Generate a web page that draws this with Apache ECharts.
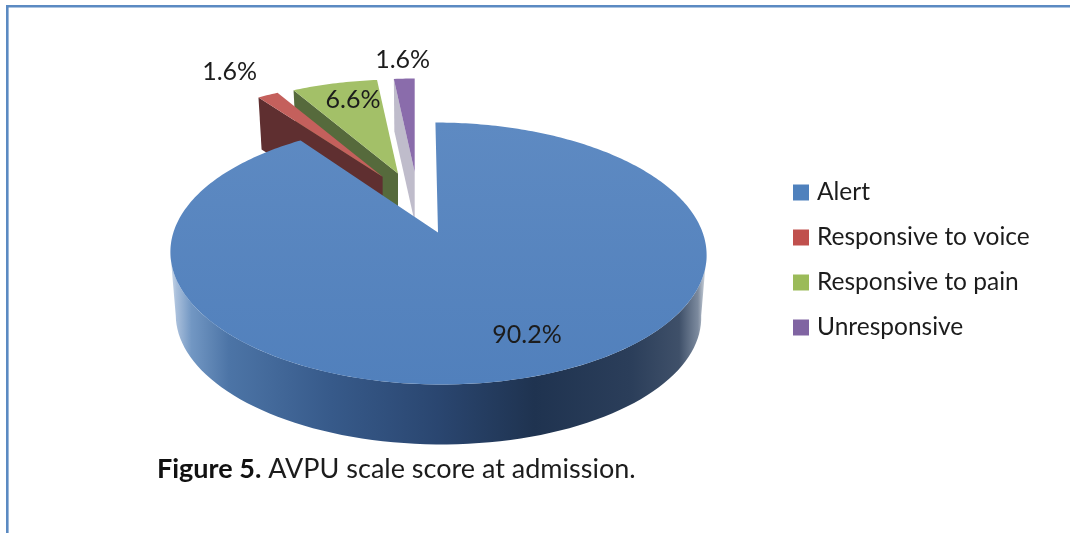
<!DOCTYPE html>
<html>
<head>
<meta charset="utf-8">
<style>html,body{margin:0;padding:0;background:#fff}#c{width:1070px;height:533px}</style>
<script src="https://cdn.jsdelivr.net/npm/echarts@6/dist/echarts.min.js"></script>
</head>
<body>
<div id="c"></div>
<script>
const categories = ['Alert', 'Responsive to voice', 'Responsive to pain', 'Unresponsive'];
const values = [90.2, 1.6, 6.6, 1.6];
const labels = ['90.2%', '1.6%', '6.6%', '1.6%'];

const topColors = ['#5a87c0', '#c4605c', '#a3c068', '#8a6cab'];
const legendColors = ['#4f81bd', '#c0504d', '#9bbb59', '#8064a2'];
const wallColors = ['#2e4f7c', '#5f2f30', '#566a3c', '#bfbccb'];

// Pie projection (perspective ellipse), explosion and label layout
const geo = {
  pivotX: 418, pivotY: 203, explodeX: 66, explodeY: 31,
  a: 264.6, b: 127.6, k: 0.16, shear: -3,
  mainDrop: 63, mainShrink: 0.98, sliceDrop: 50, sliceShrink: 0.975,
  farX: 0.91, farY: 0.85
};
const labelOffsets = [[89, 102], [-153, -105], [-45, -74], [-12, -112]];
const drawOrder = [3, 2, 1, 0];

const total = values.reduce((s, v) => s + v, 0);
const rad = p => p / total * 2 * Math.PI;
function sliceAngles(i) {
  const start = values.slice(0, i).reduce((s, v) => s + v, 0);
  return [rad(start), rad(start + values[i])];
}
function rimPoint(ax, ay, th, sx, sy, shear) {
  const u = Math.sin(th), v = Math.cos(th), d = 1 + geo.k * v;
  return [ax + sx * (geo.a * u + shear * v) / d, ay - sy * geo.b * v / d];
}
function sliceGeometry(i) {
  const [s, e] = sliceAngles(i);
  const mid = (s + e) / 2;
  const ax = geo.pivotX + geo.explodeX * Math.sin(mid);
  const ay = geo.pivotY - geo.explodeY * Math.cos(mid);
  const t = (Math.cos(mid) + 0.95) / 1.95;
  const sx = 1 + (geo.farX - 1) * t, sy = 1 + (geo.farY - 1) * t;
  return { s, e, ax, ay, sx, sy, shear: geo.shear * (1 - t) };
}
const mainWallFill = {
  type: 'linear', x: 170, y: 0, x2: 706, y2: 0, global: true,
  colorStops: [
    { offset: 0, color: '#cfdbea' }, { offset: 0.012, color: '#a9bfdb' },
    { offset: 0.04, color: '#7297c3' }, { offset: 0.11, color: '#4c74a6' },
    { offset: 0.3, color: '#375a8a' }, { offset: 0.5, color: '#2a4670' },
    { offset: 0.68, color: '#1f3350' }, { offset: 0.86, color: '#2b3e5a' },
    { offset: 0.95, color: '#3f5069' }, { offset: 0.985, color: '#7c8a9e' },
    { offset: 1, color: '#d5dbe2' }
  ]
};
function buildSlice(i) {
  const g = sliceGeometry(i);
  const children = [];
  if (i === 0) {
    const wall = [];
    for (let d = 99; d <= 261; d += 2) wall.push(rimPoint(g.ax, g.ay, d * Math.PI / 180, g.sx, g.sy, g.shear));
    for (let d = 261; d >= 99; d -= 2) wall.push(rimPoint(g.ax, g.ay + geo.mainDrop, d * Math.PI / 180, g.sx * geo.mainShrink, g.sy * geo.mainShrink, g.shear));
    children.push({ type: 'polygon', shape: { points: wall }, style: { fill: mainWallFill } });
  } else {
    const o = rimPoint(g.ax, g.ay, g.s, g.sx, g.sy, g.shear);
    const ob = rimPoint(g.ax, g.ay + geo.sliceDrop, g.s, g.sx * geo.sliceShrink, g.sy * geo.sliceShrink, g.shear);
    children.push({ type: 'polygon', shape: { points: [o, [g.ax, g.ay], [g.ax, g.ay + geo.sliceDrop], ob] }, style: { fill: wallColors[i] } });
  }
  const face = [[g.ax, g.ay]];
  const n = Math.max(6, Math.ceil((g.e - g.s) * 60));
  for (let j = 0; j <= n; j++) face.push(rimPoint(g.ax, g.ay, g.s + (g.e - g.s) * j / n, g.sx, g.sy, g.shear));
  children.push({
    type: 'polygon', shape: { points: face },
    style: { fill: i === 0
      ? { type: 'linear', x: 0, y: 0, x2: 0, y2: 1, colorStops: [{ offset: 0, color: '#5e8ac2' }, { offset: 1, color: '#5180bc' }] }
      : topColors[i] }
  });
  children.push({
    type: 'text', z2: 50,
    style: {
      x: g.ax + labelOffsets[i][0], y: g.ay + labelOffsets[i][1],
      text: labels[i], fill: '#1c1c1c', font: '25px Lato',
      align: 'center', verticalAlign: 'middle'
    }
  });
  return { type: 'group', children };
}
const series = drawOrder.map(i => ({
  type: 'custom', name: categories[i], coordinateSystem: 'none', z: 10 - i,
  itemStyle: { color: legendColors[i] }, silent: true,
  data: [[values[i]]], renderItem: () => buildSlice(i)
}));

const chart = echarts.init(document.getElementById('c'), null, { renderer: 'canvas' });
chart.setOption({
  animation: false,
  backgroundColor: '#fff',
  legend: {
    data: categories, orient: 'vertical', left: 793, top: 180, padding: 0,
    icon: 'rect', itemWidth: 16, itemHeight: 16, itemGap: 20, selectedMode: false,
    textStyle: { fontFamily: 'Lato', fontSize: 24.5, color: '#1c1c1c', lineHeight: 21, padding: [0, 0, 0, 3] }
  },
  title: {
    left: 157, top: 456, padding: 0,
    text: '{b|Figure 5.} {r|AVPU scale score at admission.}',
    textStyle: { fontWeight: 'normal', fontSize: 27, fontFamily: 'Lato', rich: {
      b: { fontFamily: 'Lato', fontWeight: 'bold', fontSize: 27, color: '#111' },
      r: { fontFamily: 'Lato', fontWeight: 'normal', fontSize: 27, color: '#1c1c1c' }
    } }
  },
  graphic: [
    { type: 'rect', shape: { x: 6, y: 5, width: 1064, height: 2.4 }, style: { fill: '#5b8ac2' } },
    { type: 'rect', shape: { x: 6, y: 5, width: 2.6, height: 528 }, style: { fill: '#5b8ac2' } }
  ],
  series
});
</script>
</body>
</html>
